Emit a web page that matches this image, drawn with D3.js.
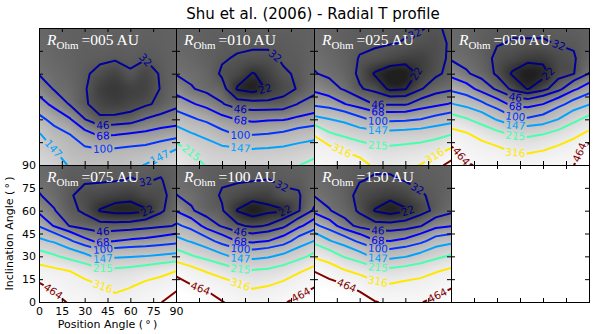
<!DOCTYPE html>
<html>
<head>
<meta charset="utf-8">
<script src="https://cdn.jsdelivr.net/npm/d3@7"></script>
<style>
  body { margin: 0; background: #fff; }
  svg { display: block; }
</style>
</head>
<body>
<svg id="chart" width="600" height="334"></svg>
<script>
const paValues = [0, 10, 20, 30, 40, 50, 60, 70, 80, 90];
const incValues = [90, 80, 70, 60, 50, 40, 30, 20, 10, 0];
const levels = [22, 32, 46, 68, 100, 147, 215, 316, 464];
const tickValues = [0, 15, 30, 45, 60, 75, 90];
const panelNames = ["005", "010", "025", "050", "075", "100", "150"];

// temperature (K); rows = inclination 90 -> 0, columns = PA 0 -> 90
const t005 = [
  [39, 37.5, 36, 35.5, 37, 36, 36.5, 36, 36, 37],
  [40, 38, 36.5, 35.5, 36, 35, 35.5, 35, 35.5, 37],
  [42, 39, 37, 35, 34, 33, 34, 32.5, 34.5, 37],
  [45, 41, 38, 33.5, 29, 26, 31, 27, 33, 37],
  [58.5, 44.5, 40, 33, 25, 23, 25, 26, 32.5, 38],
  [79, 61, 45, 33.5, 27, 25, 27, 30, 35, 42],
  [110, 88, 70.5, 46.5, 34, 35, 37, 47, 52, 56],
  [152, 116, 101, 77.5, 64.7, 67, 71, 74, 80, 85],
  [175, 148, 119, 107, 102, 104, 108, 112, 125, 148],
  [205, 185, 140, 128, 130, 128, 135, 149, 175, 200]
];
const t010 = [
  [38, 37, 35.5, 35, 35, 35, 35, 35, 35.5, 36.5],
  [39, 37.5, 35.5, 34.5, 34, 33.5, 33.5, 34, 35, 36.5],
  [41, 39, 36, 33, 31, 30, 30, 33, 34, 37],
  [45, 42, 38, 30.5, 27, 21.5, 25, 31, 33, 38],
  [59, 47.5, 41, 36, 21, 18, 23, 28, 33, 41],
  [83, 71, 60, 47.5, 37, 36, 35, 36, 47, 53],
  [122, 106, 92, 76, 67, 62, 65, 66, 73, 79],
  [179, 152, 135, 112, 98, 99, 102, 108, 120, 128],
  [245, 205, 175, 160, 155, 150, 153, 158, 168, 180],
  [290, 255, 208, 195, 190, 185, 190, 200, 212, 240]
];
const t025 = [
  [40, 38, 35.5, 34, 34, 34, 33, 32.5, 31, 33.5],
  [41, 38.5, 35.5, 33.5, 33, 32.5, 31.5, 30, 29.5, 33],
  [43, 40, 36, 31.5, 30, 27, 25, 25, 29, 33.5],
  [47, 43, 38, 30, 21, 17, 17, 24, 30, 35],
  [62, 53, 44, 33, 29, 20, 21.5, 31, 39, 43],
  [93, 85, 69, 56, 45, 44, 44, 54, 62, 70],
  [162, 148, 133, 110, 92, 90, 92, 100, 113, 125],
  [312, 228, 200, 178, 170, 168, 172, 177, 190, 213],
  [370, 350, 305, 262, 235, 232, 240, 250, 270, 330],
  [430, 420, 400, 370, 290, 285, 300, 318, 400, 520]
];
const t050 = [
  [40, 38, 35.5, 34, 33, 34, 34, 34.5, 35, 36],
  [41, 38.5, 35, 32.5, 31.5, 31, 31, 32.5, 33, 36],
  [44, 41, 36, 30, 27, 24, 24, 28, 31, 38],
  [61, 48, 40, 30, 21, 17, 19, 28, 31.5, 46.5],
  [92, 80, 58, 43, 29, 21.5, 28, 40, 63, 82],
  [151, 130, 108, 82, 62, 58, 68, 88, 115, 143],
  [251, 222, 182, 143, 110, 105, 115, 148, 195, 240],
  [359, 330, 280, 240, 210, 200, 216, 245, 290, 345],
  [495, 400, 370, 340, 300, 290, 310, 345, 385, 560],
  [640, 480, 440, 420, 400, 395, 420, 450, 455, 720]
];
const t075 = [
  [40, 38, 35, 35, 35, 34.5, 34, 34.5, 34, 35.5],
  [42, 39, 34, 33, 33, 32.5, 31.5, 32.5, 31.5, 35.5],
  [47, 41, 33, 29, 27, 25, 24, 27, 29, 36.5],
  [61.5, 47, 35, 30, 21.5, 19, 19, 21, 30, 39],
  [97.5, 66, 45.5, 39, 36, 36, 37, 40, 43, 47],
  [160, 140, 107, 76, 62, 68, 72, 75, 81, 88],
  [252, 225, 190, 163, 130, 138, 143, 148, 155, 162],
  [372, 345, 320, 275, 240, 236, 245, 262, 285, 318],
  [498, 430, 380, 360, 325, 295, 312, 350, 375, 420],
  [640, 530, 445, 425, 395, 345, 380, 420, 455, 560]
];
const t100 = [
  [40, 38, 35.5, 34.5, 34.5, 34.5, 34, 35, 35.5, 37],
  [42, 39, 35.5, 33, 33, 32.5, 31.8, 33.5, 34, 38],
  [46.5, 42, 36, 31, 28, 25, 25, 30, 31, 40],
  [66.5, 48, 38, 33, 21.5, 17, 20, 21, 31, 48],
  [108, 88, 58, 44, 34, 30, 33, 42, 62, 84],
  [165, 142, 115, 86, 67, 62, 68, 82, 118, 148],
  [258, 222, 190, 160, 135, 130, 140, 160, 190, 235],
  [420, 365, 310, 270, 235, 225, 232, 255, 305, 360],
  [560, 480, 430, 385, 340, 305, 320, 355, 410, 455],
  [700, 640, 560, 470, 420, 390, 410, 450, 500, 620]
];
const t150 = [
  [40, 38, 35.5, 34, 33.5, 33.5, 34, 35, 36, 37],
  [42, 39, 35.5, 32.5, 31, 31, 32.5, 34, 35, 37],
  [45.5, 41, 36, 29, 26, 24, 26, 31, 34, 38],
  [60.7, 47, 39, 30, 21.5, 18, 21, 27, 35, 42],
  [110, 83, 54, 41, 36, 36, 38, 45, 60, 67],
  [198, 152, 122, 92, 70, 68, 74, 90, 118, 130],
  [300, 262, 208, 172, 135, 130, 143, 165, 195, 225],
  [465, 390, 330, 290, 250, 240, 255, 275, 310, 345],
  [610, 545, 490, 420, 360, 335, 355, 370, 405, 450],
  [780, 700, 640, 560, 470, 440, 460, 455, 500, 560]
];

const panels = [t005, t010, t025, t050, t075, t100, t150];

const colEdges = [39, 176, 314, 451, 589];
const rowEdges = [28, 165, 302];

const svg = d3.select("#chart");
const defs = svg.append("defs");

// matplotlib "jet"
const jetR = d3.scaleLinear().domain([0, 0.35, 0.66, 0.89, 1]).range([0, 0, 1, 1, 0.5]).clamp(true);
const jetG = d3.scaleLinear().domain([0, 0.125, 0.375, 0.64, 0.91, 1]).range([0, 0, 1, 1, 0, 0]).clamp(true);
const jetB = d3.scaleLinear().domain([0, 0.11, 0.34, 0.65, 1]).range([0.5, 1, 1, 0, 0]).clamp(true);
const levelNorm = d3.scaleLinear().domain([levels[0], levels[levels.length - 1]]).range([0, 1]);
const levelColor = v => {
  const t = levelNorm(v);
  return d3.rgb(jetR(t) * 255, jetG(t) * 255, jetB(t) * 255).formatHex();
};

// grey shading of the background image, on log10 T
const grayScale = d3.scaleLinear()
  .domain([1.23, 1.544, 2.0, 2.333, 2.5, 2.78])
  .range([0.12, 0.37, 0.70, 0.85, 0.93, 1])
  .clamp(true);

// marching squares, joined into polylines (data coords)
function traceLevel(grid, level) {
  const ny = grid.length, nx = grid[0].length;
  const pts = new Map();
  const segs = [];
  const node = (i, j) => [paValues[i], incValues[j], grid[j][i]];
  const above = p => p[2] >= level;
  function cross(key, a, b) {
    if (!pts.has(key)) {
      const t = (level - a[2]) / (b[2] - a[2]);
      pts.set(key, [a[0] + t * (b[0] - a[0]), a[1] + t * (b[1] - a[1])]);
    }
    return key;
  }
  for (let j = 0; j < ny - 1; j++) {
    for (let i = 0; i < nx - 1; i++) {
      const tl = node(i, j), tr = node(i + 1, j), br = node(i + 1, j + 1), bl = node(i, j + 1);
      const e = [
        above(tl) !== above(tr) ? cross(`h${i},${j}`, tl, tr) : null,
        above(tr) !== above(br) ? cross(`v${i + 1},${j}`, tr, br) : null,
        above(bl) !== above(br) ? cross(`h${i},${j + 1}`, bl, br) : null,
        above(tl) !== above(bl) ? cross(`v${i},${j}`, tl, bl) : null
      ];
      const hits = e.filter(k => k);
      if (hits.length === 2) segs.push(hits);
      else if (hits.length === 4) {
        const centre = (tl[2] + tr[2] + br[2] + bl[2]) / 4;
        if ((centre >= level) === above(tl)) segs.push([e[0], e[1]], [e[2], e[3]]);
        else segs.push([e[0], e[3]], [e[1], e[2]]);
      }
    }
  }
  const adj = new Map();
  segs.forEach((s, k) => s.forEach(key => {
    if (!adj.has(key)) adj.set(key, []);
    adj.get(key).push(k);
  }));
  const used = segs.map(() => false);
  function walk(start) {
    const line = [start];
    let key = start;
    while (true) {
      const next = (adj.get(key) || []).find(k => !used[k]);
      if (next === undefined) break;
      used[next] = true;
      const s = segs[next];
      key = s[0] === key ? s[1] : s[0];
      line.push(key);
    }
    return line.map(k => pts.get(k));
  }
  const lines = [];
  for (const [key, list] of adj) if (list.length === 1 && !used[list[0]]) lines.push(walk(key));
  segs.forEach((s, k) => { if (!used[k]) lines.push(walk(s[0])); });
  return lines;
}

// helpers for label placement (pixel polylines)
function angleOf(a, b) {
  let ang = Math.atan2(b[1] - a[1], b[0] - a[0]) * 180 / Math.PI;
  if (ang > 90) ang -= 180;
  if (ang < -90) ang += 180;
  return ang;
}
function lengthOf(pix) {
  let L = 0;
  for (let i = 1; i < pix.length; i++) L += Math.hypot(pix[i][0] - pix[i - 1][0], pix[i][1] - pix[i - 1][1]);
  return L;
}
function midPoint(pix) {
  let half = lengthOf(pix) / 2;
  for (let i = 1; i < pix.length; i++) {
    const a = pix[i - 1], b = pix[i];
    const d = Math.hypot(b[0] - a[0], b[1] - a[1]);
    if (d >= half) {
      const t = d ? half / d : 0;
      return { x: a[0] + t * (b[0] - a[0]), y: a[1] + t * (b[1] - a[1]), angle: angleOf(a, b) };
    }
    half -= d;
  }
  const n = pix.length;
  return { x: pix[n - 1][0], y: pix[n - 1][1], angle: angleOf(pix[n - 2], pix[n - 1]) };
}
function crossingAt(pix, xc) {
  for (let i = 1; i < pix.length; i++) {
    const a = pix[i - 1], b = pix[i];
    if ((a[0] - xc) * (b[0] - xc) <= 0 && a[0] !== b[0]) {
      const t = (xc - a[0]) / (b[0] - a[0]);
      return { x: xc, y: a[1] + t * (b[1] - a[1]), angle: angleOf(a, b) };
    }
  }
  return null;
}
function closestTo(pix, tx, ty) {
  let best = null, bd = Infinity;
  for (let i = 1; i < pix.length; i++) {
    const a = pix[i - 1], b = pix[i];
    const dx = b[0] - a[0], dy = b[1] - a[1];
    const L2 = dx * dx + dy * dy;
    let t = L2 ? ((tx - a[0]) * dx + (ty - a[1]) * dy) / L2 : 0;
    t = Math.max(0, Math.min(1, t));
    const px = a[0] + t * dx, py = a[1] + t * dy;
    const d = Math.hypot(px - tx, py - ty);
    if (d < bd) { bd = d; best = { x: px, y: py, angle: angleOf(a, b) }; }
  }
  return best;
}

// smooth image sampling (Catmull-Rom on log T)
const cr = (p0, p1, p2, p3, t) =>
  p1 + 0.5 * t * (p2 - p0 + t * (2 * p0 - 5 * p1 + 4 * p2 - p3 + t * (3 * (p1 - p2) + p3 - p0)));
function sample(lg, u, v) {
  const nx = lg[0].length, ny = lg.length;
  const iu = Math.min(Math.floor(u), nx - 2), iv = Math.min(Math.floor(v), ny - 2);
  const fu = u - iu, fv = v - iv;
  const at = (i, j) => lg[Math.max(0, Math.min(ny - 1, j))][Math.max(0, Math.min(nx - 1, i))];
  const r = [-1, 0, 1, 2].map(d => cr(at(iu - 1, iv + d), at(iu, iv + d), at(iu + 1, iv + d), at(iu + 2, iv + d), fu));
  return cr(r[0], r[1], r[2], r[3], fv);
}

function drawFrame(g, x, y, x0, x1, y0, y1, withLabels) {
  const fontIt = sel => sel.attr("font-size", 11).attr("font-family", "'DejaVu Sans', sans-serif");
  const noDomain = sel => sel.select(".domain").remove();
  g.append("g").attr("transform", `translate(${x0},0)`)
    .call(d3.axisLeft(y).tickValues(tickValues).tickSize(-4).tickPadding(3).tickFormat(withLabels ? d3.format("d") : ""))
    .call(noDomain).call(fontIt);
  g.append("g").attr("transform", `translate(0,${y1})`)
    .call(d3.axisBottom(x).tickValues(tickValues).tickSize(-4).tickPadding(5).tickFormat(withLabels ? d3.format("d") : ""))
    .call(noDomain).call(fontIt);
  g.append("g").attr("transform", `translate(${x1},0)`)
    .call(d3.axisRight(y).tickValues(tickValues).tickSize(-4).tickFormat(""))
    .call(noDomain);
  g.append("g").attr("transform", `translate(0,${y0})`)
    .call(d3.axisTop(x).tickValues(tickValues).tickSize(-4).tickFormat(""))
    .call(noDomain);
  g.append("rect")
    .attr("x", x0).attr("y", y0).attr("width", x1 - x0).attr("height", y1 - y0)
    .attr("fill", "none").attr("stroke", "#000").attr("stroke-width", 1)
    .attr("shape-rendering", "crispEdges");
}

panels.forEach((grid, p) => {
  const col = p % 4, row = Math.floor(p / 4);
  const x0 = colEdges[col], x1 = colEdges[col + 1], y0 = rowEdges[row], y1 = rowEdges[row + 1];
  const x = d3.scaleLinear().domain([0, 90]).range([x0, x1]);
  const y = d3.scaleLinear().domain([0, 90]).range([y1, y0]);
  const g = svg.append("g");

  // background image
  const lg = grid.map(r => r.map(Math.log10));
  const w = Math.round(x1 - x0), h = Math.round(y1 - y0);
  const canvas = document.createElement("canvas");
  canvas.width = w; canvas.height = h;
  const ctx = canvas.getContext("2d");
  const img = ctx.createImageData(w, h);
  for (let py = 0; py < h; py++) {
    const inc = y.invert(y0 + py + 0.5);
    const v = Math.max(0, Math.min(9, (90 - inc) / 10));
    for (let px = 0; px < w; px++) {
      const pa = x.invert(x0 + px + 0.5);
      const u = Math.max(0, Math.min(9, pa / 10));
      const c = Math.round(255 * grayScale(sample(lg, u, v)));
      const k = (py * w + px) * 4;
      img.data[k] = img.data[k + 1] = img.data[k + 2] = c;
      img.data[k + 3] = 255;
    }
  }
  ctx.putImageData(img, 0, 0);

  const clipId = `clip${p}`, maskId = `mask${p}`;
  defs.append("clipPath").attr("id", clipId)
    .append("rect").attr("x", x0).attr("y", y0).attr("width", x1 - x0).attr("height", y1 - y0);
  const mask = defs.append("mask").attr("id", maskId).attr("maskUnits", "userSpaceOnUse")
    .attr("x", x0 - 5).attr("y", y0 - 5).attr("width", x1 - x0 + 10).attr("height", y1 - y0 + 10);
  mask.append("rect").attr("x", x0 - 5).attr("y", y0 - 5).attr("width", x1 - x0 + 10).attr("height", y1 - y0 + 10).attr("fill", "#fff");

  g.append("image")
    .attr("x", x0).attr("y", y0).attr("width", x1 - x0).attr("height", y1 - y0)
    .attr("preserveAspectRatio", "none")
    .attr("href", canvas.toDataURL());

  // contours
  const line = d3.line().x(d => x(d[0])).y(d => y(d[1]));
  const lines = g.append("g").attr("clip-path", `url(#${clipId})`).append("g").attr("mask", `url(#${maskId})`);
  const labels = [];
  levels.forEach(level => {
    const polys = traceLevel(grid, level);
    const color = levelColor(level);
    polys.forEach(poly => {
      lines.append("path").attr("d", line(poly))
        .attr("fill", "none").attr("stroke", color).attr("stroke-width", 2)
        .attr("stroke-linejoin", "round").attr("stroke-linecap", "round");
    });
    const pix = polys.map(poly => poly.map(d => [x(d[0]), y(d[1])]));
    const text = String(level);
    if (level === 22) {
      pix.forEach(pl => {
        if (lengthOf(pl) < 20) return;
        const right = pl.reduce((a, b) => (b[0] > a[0] ? b : a));
        labels.push({ ...closestTo(pl, right[0], right[1]), text, color });
      });
    } else if (level === 32) {
      pix.forEach(pl => {
        if (lengthOf(pl) < 25) return;
        labels.push({ ...closestTo(pl, x(70), y(78)), text, color });
      });
    } else if (level === 464) {
      pix.forEach(pl => { if (lengthOf(pl) > 25) labels.push({ ...midPoint(pl), text, color }); });
    } else {
      const hits = pix.map(pl => crossingAt(pl, x(42))).filter(d => d);
      if (hits.length) hits.forEach(hh => labels.push({ ...hh, text, color }));
      else pix.forEach(pl => { if (lengthOf(pl) > 25) labels.push({ ...midPoint(pl), text, color }); });
    }
  });

  labels.forEach(lb => {
    const bw = lb.text.length * 6.6 + 3, bh = 9;
    mask.append("rect")
      .attr("x", -bw / 2).attr("y", -bh / 2).attr("width", bw).attr("height", bh)
      .attr("transform", `translate(${lb.x},${lb.y}) rotate(${lb.angle})`)
      .attr("fill", "#000");
  });
  g.append("g").attr("clip-path", `url(#${clipId})`)
    .selectAll("text").data(labels).join("text")
    .attr("transform", d => `translate(${d.x},${d.y}) rotate(${d.angle})`)
    .attr("text-anchor", "middle").attr("dy", "0.36em")
    .attr("font-size", 10.5).attr("font-family", "'DejaVu Sans', sans-serif")
    .attr("fill", d => d.color)
    .text(d => d.text);

  // panel name
  const name = g.append("text")
    .attr("x", x0 + 8).attr("y", y0 + 17)
    .attr("fill", "#fff")
    .attr("font-family", "'Liberation Serif', 'DejaVu Serif', serif")
    .attr("font-size", 15.5);
  name.append("tspan").attr("font-style", "italic").text("R");
  name.append("tspan").attr("dy", 3.5).attr("font-size", 11).text("Ohm");
  name.append("tspan").attr("dy", -3.5).attr("dx", 3).text("=" + panelNames[p] + " AU");

  drawFrame(g, x, y, x0, x1, y0, y1, p === 4);
});

// empty eighth panel
{
  const x0 = colEdges[3], x1 = colEdges[4], y0 = rowEdges[1], y1 = rowEdges[2];
  const x = d3.scaleLinear().domain([0, 90]).range([x0, x1]);
  const y = d3.scaleLinear().domain([0, 90]).range([y1, y0]);
  const g = svg.append("g");
  g.append("rect").attr("x", x0).attr("y", y0).attr("width", x1 - x0).attr("height", y1 - y0).attr("fill", "#fff");
  drawFrame(g, x, y, x0, x1, y0, y1, false);
}

svg.append("text")
  .attr("x", 313).attr("y", 19).attr("text-anchor", "middle")
  .attr("font-family", "'DejaVu Sans', sans-serif").attr("font-size", 15)
  .text("Shu et al. (2006) - Radial T profile");

svg.append("text")
  .attr("transform", `translate(13,${(rowEdges[1] + rowEdges[2]) / 2}) rotate(-90)`)
  .attr("text-anchor", "middle")
  .attr("font-family", "'DejaVu Sans', sans-serif").attr("font-size", 11)
  .text("Inclination Angle (\u2009°\u2009)");

svg.append("text")
  .attr("x", (colEdges[0] + colEdges[1]) / 2).attr("y", 328).attr("text-anchor", "middle")
  .attr("font-family", "'DejaVu Sans', sans-serif").attr("font-size", 11)
  .text("Position Angle (\u2009°\u2009)");
</script>
</body>
</html>
